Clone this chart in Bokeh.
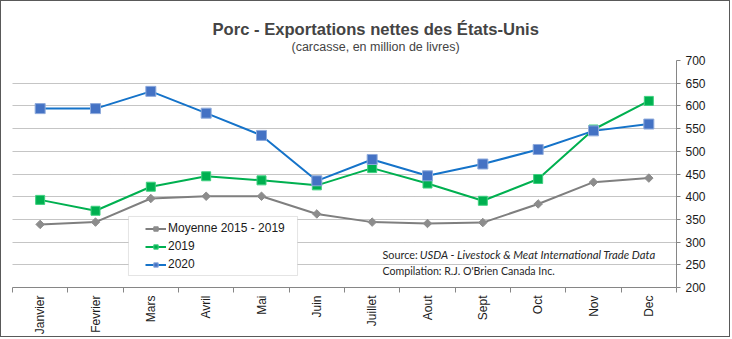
import math
from bokeh.plotting import figure
from bokeh.models import (Range1d, FixedTicker, Legend, LegendItem, Label, Title, BoxAnnotation)
from bokeh.embed import file_html
from bokeh.resources import INLINE

months = ["Janvier", "Fevrier", "Mars", "Avril", "Mai", "Juin",
          "Juillet", "Aout", "Sept", "Oct", "Nov", "Dec"]
moyenne = [339, 344, 396, 401, 401, 362, 344, 341, 343, 384, 432, 441]
y2019 = [393, 369, 422, 445, 436, 425, 463, 429, 391, 439, 548, 611]
y2020 = [594, 594, 632, 584, 535, 435, 482, 446, 472, 504, 545, 560]
y_ticks = [200, 250, 300, 350, 400, 450, 500, 550, 600, 650, 700]

title_text = "Porc - Exportations nettes des États-Unis"
subtitle_text = "(carcasse, en million de livres)"
source_prefix = "Source:"
source_italic = "USDA - Livestock & Meat International Trade Data"
compilation = "Compilation: R.J. O'Brien Canada Inc."

n = len(months)
xs = [i + 0.5 for i in range(n)]

FONT = "Liberation Sans"

p = figure(width=730, height=337,
           x_range=Range1d(0, n), y_range=Range1d(y_ticks[0], y_ticks[-1]),
           output_backend="svg", toolbar_location=None,
           y_axis_location="right",
           min_border_left=11, min_border_right=55,
           min_border_top=59, min_border_bottom=51)
p.styles = {"border": "1px solid #595959"}
p.outline_line_color = None
p.background_fill_color = "white"
p.border_fill_color = "white"

# titles (p.title is the outer one, added Title sits closer to the plot)
p.title.text = title_text
p.title.text_font = FONT
p.title.text_font_size = "16.6px"
p.title.text_font_style = "bold"
p.title.align = "left"
p.title.offset = 200
try:
    p.title.standoff = -14
except Exception:
    p.title.standoff = 0
sub = Title(text=subtitle_text, text_font=FONT, text_font_size="12.5px",
            text_font_style="normal", align="left", offset=279)
sub.standoff = 13
p.add_layout(sub, "above")

# grid
p.xgrid.visible = False
p.ygrid.ticker = FixedTicker(ticks=y_ticks)
p.ygrid.grid_line_color = "#8a8a8a"
p.ygrid.grid_line_dash = "1 1"
p.ygrid.grid_line_width = 1

# axes
xa = p.xaxis[0]
xa.ticker = FixedTicker(ticks=xs, minor_ticks=list(range(n + 1)))
xa.major_label_overrides = {x: m for x, m in zip(xs, months)}
xa.major_tick_out = 0
xa.major_tick_in = 0
xa.minor_tick_out = 5
xa.minor_tick_in = 0
xa.minor_tick_line_color = "#868686"
xa.axis_line_color = "#868686"
xa.major_label_orientation = math.pi / 2
xa.major_label_text_font = FONT
xa.major_label_text_font_size = "12px"
xa.major_label_text_color = "#1a1a1a"
xa.major_label_standoff = 3

ya = p.yaxis[0]
ya.ticker = FixedTicker(ticks=y_ticks)
ya.axis_line_color = "#868686"
ya.major_tick_line_color = "#868686"
ya.major_tick_out = 4
ya.major_tick_in = 0
ya.minor_tick_out = 0
ya.minor_tick_in = 0
ya.major_label_text_font = FONT
ya.major_label_text_font_size = "12px"
ya.major_label_text_color = "#1a1a1a"
ya.major_label_standoff = 5

# series
l0 = p.line(xs, moyenne, line_color="#7f7f7f", line_width=2)
s0 = p.scatter(xs, moyenne, marker="square", angle=math.pi / 4, size=6,
               fill_color="#8c8c8c", line_color="#8c8c8c")
l1 = p.line(xs, y2019, line_color="#00b050", line_width=2)
s1 = p.scatter(xs, y2019, marker="square", size=9,
               fill_color="#00b050", line_color="#3fd07f")
l2 = p.line(xs, y2020, line_color="#1573c9", line_width=2)
s2 = p.scatter(xs, y2020, marker="square", size=10,
               fill_color="#4472c4", line_color="#8eaadb")

# legend box
box = BoxAnnotation(left=2.096, right=5.151, top=356.4, bottom=226.4,
                    fill_color="white", fill_alpha=1,
                    line_color="#a6a6a6", line_width=1)
p.add_layout(box)

legend = Legend(items=[
    LegendItem(label="Moyenne 2015 - 2019", renderers=[l0, s0]),
    LegendItem(label="2019", renderers=[l1, s1]),
    LegendItem(label="2020", renderers=[l2, s2]),
], location=(133, 16))
legend.border_line_alpha = 0
legend.background_fill_alpha = 0
legend.padding = 0
legend.margin = 0
legend.spacing = 4
legend.glyph_height = 11
legend.label_height = 11
legend.glyph_width = 21
legend.label_standoff = 2
legend.label_text_font = FONT
legend.label_text_font_size = "12px"
legend.label_text_color = "#1a1a1a"
p.add_layout(legend)

# source notes
SRC_FONT = "Lato"
p.add_layout(Label(x=6.687, y=272.7, text=source_prefix, text_baseline="middle",
                   text_font=SRC_FONT, text_font_size="10.8px", text_color="#262626"))
p.add_layout(Label(x=7.361, y=272.7, text=source_italic, text_baseline="middle",
                   text_font=SRC_FONT, text_font_size="11.3px", text_font_style="italic",
                   text_color="#262626"))
p.add_layout(Label(x=6.687, y=237.4, text=compilation, text_baseline="middle",
                   text_font=SRC_FONT, text_font_size="10.6px", text_color="#262626"))

open("out.html", "w").write(file_html(p, INLINE))
